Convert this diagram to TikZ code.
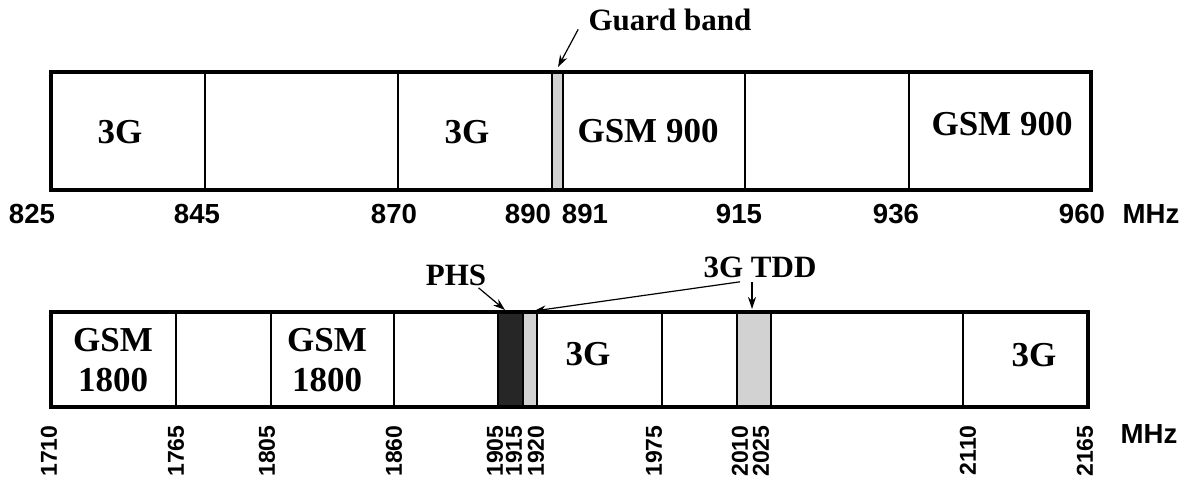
\documentclass[tikz,border=0pt]{standalone}
\usepackage{fontspec}
\setmainfont{Liberation Serif}
\newfontfamily\axisfont{Liberation Sans}
\usetikzlibrary{arrows.meta}
\tikzset{
  barframe/.style={line width=1.9pt,draw=black},
  bandline/.style={line width=1.4pt,black},
  guardfill/.style={fill=gray!35},
  phsfill/.style={fill=black!85},
  bandlabel/.style={font=\bfseries\fontsize{17.5}{20}\selectfont,
    align=center,inner sep=0pt},
  notelabel/.style={font=\bfseries\fontsize{15.5}{17}\selectfont,inner sep=0pt},
  freqlabel/.style={font=\axisfont\bfseries\fontsize{13.8}{15}\selectfont,
    inner sep=0pt},
  freqvert/.style={font=\axisfont\bfseries\fontsize{11.5}{13}\selectfont,
    inner sep=0pt,rotate=90,anchor=east},
  pointer/.style={semithick,-{Stealth[length=6pt,width=4pt]}}
}

\begin{document}
\begin{tikzpicture}[x=0.5pt,y=-0.5pt]
  \useasboundingbox (0,0) rectangle (1186,477);

  % 900 MHz band
  \fill[guardfill] (552,72) rectangle (563,190);
  \draw[bandline] (205,72)--(205,190) (398,72)--(398,190)
    (552,72)--(552,190) (563,72)--(563,190)
    (745,72)--(745,190) (909,72)--(909,190);
  \draw[barframe] (51,72) rectangle (1091,190);

  \node[bandlabel] (gA) at (120,132) {3G};
  \node[bandlabel] (gB) at (467,132) {3G};
  \node[bandlabel] (gC) at (648,131) {GSM 900};
  \node[bandlabel] (gD) at (1002,124) {GSM 900};

  \foreach \x/\f in {32/825,197/845,394/870,528/890,585/891,
                     739/915,896/936,1082/960}
    \node[freqlabel] (f\f) at (\x,214) {\f};
  \node[freqlabel] (mhzA) at (1151,214) {MHz};

  \node[notelabel] (guardlbl) at (670,20) {Guard band};
  \coordinate (guardtop) at (558,67);
  \draw[pointer] ([xshift=-5pt,yshift=1pt]guardlbl.south west) -- (guardtop);

  % 1800/2000 MHz band
  \fill[phsfill] (498,312) rectangle (523,407);
  \fill[guardfill] (523,312) rectangle (537,407);
  \fill[guardfill] (737,312) rectangle (771,407);
  \draw[bandline] (176,312)--(176,407) (271,312)--(271,407)
    (394,312)--(394,407) (498,312)--(498,407) (523,312)--(523,407)
    (537,312)--(537,407) (662,312)--(662,407) (737,312)--(737,407)
    (771,312)--(771,407) (963,312)--(963,407);
  \draw[barframe] (51,312) rectangle (1088,407);

  \node[bandlabel] (hA) at (113,360) {GSM\\1800};
  \node[bandlabel] (hB) at (327,360) {GSM\\1800};
  \node[bandlabel] (hC) at (588,354) {3G};
  \node[bandlabel] (hD) at (1034,355) {3G};

  \foreach \x/\f in {49/1710,176/1765,267/1805,394/1860,495/1905,
                     514/1915,536/1920,654/1975,740/2010,761/2025,
                     968/2110,1085/2165}
    \node[freqvert] (v\f) at (\x,425) {\f};
  \node[freqlabel] (mhzB) at (1149,434) {MHz};

  \node[notelabel] (phslbl) at (456,275) {PHS};
  \coordinate (phstop) at (505,310);
  \draw[pointer] ([xshift=-4pt,yshift=-1pt]phslbl.south east) -- (phstop);

  \node[notelabel] (tddlbl) at (760,267) {3G TDD};
  \coordinate (tddtop) at (752,309);
  \coordinate (gaptop) at (534,311);
  \draw[pointer] ([yshift=-2pt]tddlbl.south -| tddtop) -- (tddtop);
  \draw[pointer] ([xshift=-10pt,yshift=-2pt]tddlbl.south) -- (gaptop);
\end{tikzpicture}
\end{document}
